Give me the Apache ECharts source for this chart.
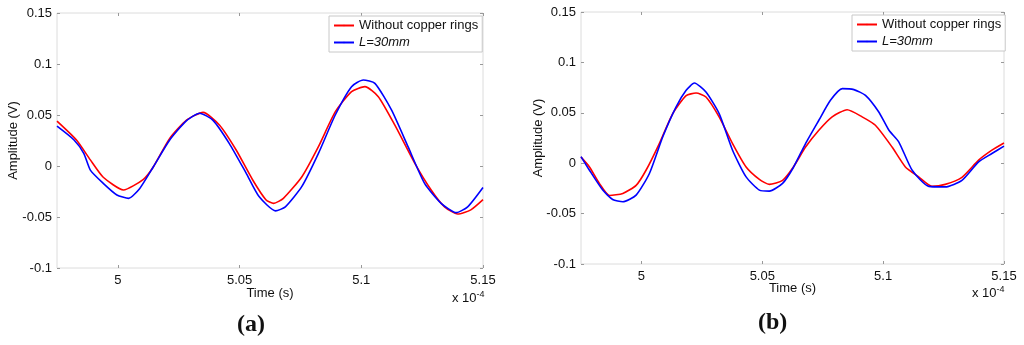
<!DOCTYPE html>
<html>
<head>
<meta charset="utf-8">
<script src="https://cdn.jsdelivr.net/npm/echarts@6/dist/echarts.min.js"></script>
<style>
html,body{margin:0;padding:0;background:#fff;}
#c{width:1024px;height:345px;}
</style>
</head>
<body>
<div id="c"></div>
<script>
// Time in units of 1e-4 s
var xTicks = [5, 5.05, 5.1, 5.15];
var yTicks = [-0.1, -0.05, 0, 0.05, 0.1, 0.15];
var seriesNames = ['Without copper rings', 'L=30mm'];

// Panel (a)
var tA_red = [4.975,4.983,4.9887,4.994,5.0023,5.0105,5.0146,5.0213,5.0282,5.035,5.0418,5.0486,5.0554,5.0608,5.064,5.068,5.0756,5.0824,5.0893,5.096,5.1015,5.107,5.1138,5.122,5.1287,5.1342,5.1396,5.145,5.15];
var vA_red = [0.044,0.0255,0.006,-0.011,-0.0235,-0.013,-0.0007,0.027,0.045,0.0526,0.040,0.0157,-0.0137,-0.033,-0.0366,-0.0317,-0.0105,0.019,0.053,0.073,0.0778,0.068,0.040,0.0026,-0.0235,-0.040,-0.047,-0.043,-0.033];
var tA_blue = [4.975,4.982,4.986,4.9887,4.994,4.9996,5.0044,5.009,5.0146,5.0213,5.028,5.0336,5.039,5.0458,5.0527,5.058,5.0648,5.0688,5.0756,5.0824,5.0893,5.096,5.1008,5.1056,5.1124,5.1192,5.126,5.1328,5.139,5.1437,5.15];
var vA_blue = [0.039,0.0255,0.0124,-0.004,-0.017,-0.0284,-0.0317,-0.022,-0.0007,0.0255,0.044,0.0517,0.045,0.022,-0.007,-0.030,-0.044,-0.040,-0.020,0.0124,0.050,0.0778,0.0843,0.081,0.055,0.019,-0.017,-0.0366,-0.0457,-0.040,-0.021];

// Panel (b)
var tB_red = [4.975,4.9785,4.9826,4.9868,4.9923,4.9978,5.0019,5.0074,5.0129,5.0185,5.0226,5.0267,5.0322,5.0377,5.0433,5.0488,5.0529,5.0584,5.0628,5.0679,5.0734,5.0789,5.0851,5.0913,5.0968,5.1037,5.1092,5.1147,5.1202,5.1257,5.1326,5.1395,5.145,5.15];
var vB_red = [0.006,-0.0037,-0.020,-0.032,-0.030,-0.022,-0.007,0.0195,0.049,0.067,0.0696,0.0657,0.0458,0.0195,-0.0037,-0.016,-0.021,-0.017,-0.004,0.016,0.0327,0.046,0.053,0.046,0.0376,0.016,-0.0037,-0.0136,-0.023,-0.021,-0.014,0.003,0.0129,0.020];
var tB_blue = [4.975,4.9785,4.984,4.9881,4.9923,4.9978,5.0033,5.0088,5.0143,5.0185,5.0219,5.0267,5.0322,5.0377,5.0433,5.0488,5.0529,5.0584,5.0628,5.0679,5.0734,5.0782,5.0831,5.0879,5.0927,5.0982,5.1024,5.1065,5.112,5.1189,5.1257,5.1326,5.1395,5.145,5.15];
var vB_blue = [0.0066,-0.007,-0.0267,-0.036,-0.0383,-0.0317,-0.0102,0.026,0.0557,0.0723,0.0795,0.0706,0.049,0.0129,-0.0136,-0.0267,-0.0277,-0.020,-0.0045,0.0195,0.0426,0.0624,0.074,0.073,0.0673,0.0508,0.0327,0.021,-0.007,-0.023,-0.0235,-0.017,0.0013,0.0096,0.017];

function zip(t, v){ return t.map(function(x,i){ return [x, v[i]]; }); }

var FONT = '"Liberation Sans", Arial, sans-serif';
var grids = [
  {left:57, top:13, width:426, height:255},
  {left:581, top:12, width:423, height:252}
];
var nameGapX = [19, 18];
var nameGapY = [37, 36];

function fmt(v){ return String(+v.toFixed(3)); }

function xAx(i, top){
  return {
    type:'value', gridIndex:i, min:4.975, max:5.15, position: top ? 'top' : 'bottom',
    name: top ? '' : 'Time (s)', nameLocation:'middle', nameGap:nameGapX[i], nameMoveOverlap:false,
    nameTextStyle:{color:'#111', fontSize:13, fontFamily:FONT},
    axisLine:{show:false, onZero:false},
    axisTick:{show:true, inside:true, length:3, lineStyle:{color:'#999'}, customValues:xTicks},
    axisLabel:{show:!top, color:'#111', fontSize:13, fontFamily:FONT, margin:6, customValues:xTicks, formatter:fmt},
    splitLine:{show:false}
  };
}
function yAx(i, right){
  return {
    type:'value', gridIndex:i, min:-0.1, max:0.15, interval:0.05, position: right ? 'right' : 'left',
    name: right ? '' : 'Amplitude (V)', nameLocation:'middle', nameGap:nameGapY[i], nameMoveOverlap:false,
    nameTextStyle:{color:'#111', fontSize:13, fontFamily:FONT},
    axisLine:{show:false, onZero:false},
    axisTick:{show:true, inside:true, length:3, lineStyle:{color:'#999'}},
    axisLabel:{show:!right, color:'#111', fontSize:13, fontFamily:FONT, margin:5, formatter:fmt},
    splitLine:{show:false}
  };
}

function mkSeries(name, data, color, i){
  return {
    name:name, type:'line', xAxisIndex:i, yAxisIndex:i, data:data,
    symbol:'none', smooth:0.2, animation:false,
    lineStyle:{color:color, width:1.6}, itemStyle:{color:color}
  };
}

function mkLegend(i, left, top){
  return {
    orient:'vertical', left:left, top:top,
    data:seriesNames,
    itemWidth:20, itemHeight:2, itemGap:4, padding:[3,4,3,4],
    borderColor:'#c8c8c8', borderWidth:1, backgroundColor:'#fff',
    formatter:function(n){ return n === seriesNames[1] ? '{i|' + n + '}' : n; },
    textStyle:{color:'#111', fontSize:13, fontFamily:FONT, rich:{i:{fontStyle:'italic', fontSize:13, fontFamily:FONT, color:'#111'}}}
  };
}

var chart = echarts.init(document.getElementById('c'), null, {renderer:'canvas'});
chart.setOption({
  animation:false,
  backgroundColor:'#fff',
  grid: grids.map(function(g){ return Object.assign({show:true, borderColor:'#dcdcdc', borderWidth:1, backgroundColor:'#fff'}, g); }),
  xAxis:[xAx(0,false), xAx(1,false), xAx(0,true), xAx(1,true)],
  yAxis:[yAx(0,false), yAx(1,false), yAx(0,true), yAx(1,true)],
  legend:[mkLegend(0, 329, 16), mkLegend(1, 852, 15)],
  series:[
    mkSeries(seriesNames[0], zip(tA_red, vA_red), '#ff0000', 0),
    mkSeries(seriesNames[1], zip(tA_blue, vA_blue), '#0000ff', 0),
    mkSeries(seriesNames[0], zip(tB_red, vB_red), '#ff0000', 1),
    mkSeries(seriesNames[1], zip(tB_blue, vB_blue), '#0000ff', 1)
  ],
  graphic:[
    {type:'text', left:452, top:290, style:{text:'x 10{s|-4}', fill:'#111', font:'13px ' + FONT, rich:{s:{fontSize:9, fontFamily:FONT, fill:'#111', verticalAlign:'top', padding:[0,0,8,0]}}}},
    {type:'text', left:972, top:285, style:{text:'x 10{s|-4}', fill:'#111', font:'13px ' + FONT, rich:{s:{fontSize:9, fontFamily:FONT, fill:'#111', verticalAlign:'top', padding:[0,0,8,0]}}}},
    {type:'text', left:237, top:313, style:{text:'(a)', fill:'#111', font:'bold 24px "Liberation Serif", "Times New Roman", serif'}},
    {type:'text', left:758, top:311, style:{text:'(b)', fill:'#111', font:'bold 24px "Liberation Serif", "Times New Roman", serif'}}
  ]
});
</script>
</body>
</html>
